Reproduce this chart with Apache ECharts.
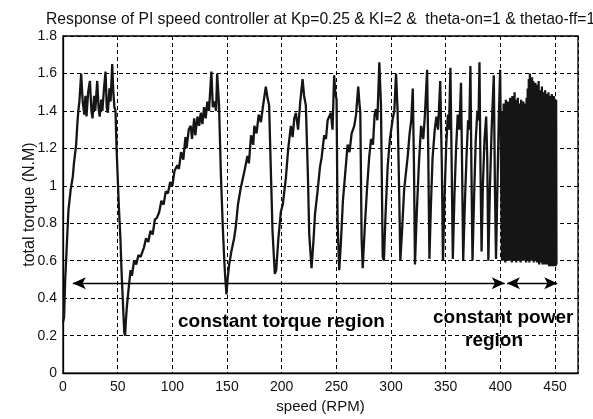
<!DOCTYPE html>
<html>
<head>
<meta charset="utf-8">
<script src="https://cdn.jsdelivr.net/npm/echarts@6/dist/echarts.min.js"></script>
<style>html,body{margin:0;padding:0;background:#fff;}#c{width:593px;height:419px;}</style>
</head>
<body>
<div id="c"></div>
<script>
// ---- data (speed RPM, total torque N.M) ----
const startUp = [[0,0.27],[1,0.3],[2,0.5],[3,0.62],[4,0.75],[5,0.87],[7,0.98],[9,1.05],[10,1.12],[12,1.22],[13,1.32],[14,1.40],[15,1.45],
  [16.6,1.60],[18,1.45],[19.5,1.38],[20.5,1.48],[21.5,1.37],[23,1.50],[24.6,1.56],[26,1.40],[27,1.36],[28.5,1.48],[29.5,1.40],
  [31.3,1.56],[32.5,1.42],[33.5,1.37],[35,1.46],[36,1.40],[37.5,1.52],[38.9,1.61],[40,1.42],[41,1.39],[42.5,1.52],[43.5,1.45],
  [45,1.65],[46,1.50],[47,1.42],[48,1.40],[49,1.2],[50,1.05],[51,0.9],[52.5,0.72],[53.5,0.55],[55,0.35],[56,0.22],[56.8,0.20]];
const ramp1 = [[57.5,0.28],[58.5,0.36],[60,0.45],[61.8,0.55],[63,0.52],[65,0.6],[67,0.58],[69,0.63],[71,0.62],[74,0.67],[76,0.72],
  [78,0.70],[80,0.76],[82,0.74],[84,0.82],[86,0.83],[88,0.86],[90,0.92],[92,0.90],[94,0.97],[96,0.96],[98,1.02],[100,1.0],
  [102,1.08],[104.6,1.11],[106,1.09],[108,1.18],[110,1.14],[112,1.26],[113,1.20],[115,1.30],[116.8,1.32],[118,1.25],[120,1.36],
  [121,1.27],[123,1.37],[124.5,1.32],[126,1.39],[127.5,1.33],[129,1.42],[130.5,1.36],[132,1.45],[133.5,1.40],[135.7,1.61],
  [137,1.42],[138.5,1.45],[140,1.40],[141,1.60],[142.7,1.43],[144.3,1.08],[146,0.80],[147.5,0.60],[148.5,0.50],[149.5,0.42]];
const ramp2 = [[150.5,0.50],[152,0.58],[154,0.65],[156.5,0.72],[158,0.78],[160,0.90],[162.6,0.99],[164,0.98],[166,1.08],[168.7,1.16],
  [170,1.12],[172,1.27],[174,1.22],[175,1.32],[177,1.28],[179,1.38],[181,1.34],[183,1.43],[185.5,1.53],[187,1.47],[188.5,1.43],
  [190,1.10],[191.6,0.76],[193.7,0.53]];
const ramp3 = [[195,0.55],[197,0.72],[199.2,0.86],[201,0.90],[203.8,1.04],[206,1.20],[208.4,1.32],[210,1.26],[211.5,1.36],[213,1.39],
  [215,1.30],[217,1.45],[219.1,1.57],[220.5,1.48],[222.1,1.43],[224,1.05],[225.2,0.74],[227.3,0.56],
  [229,0.70],[230.5,0.85],[232.8,0.97],[235,1.10],[236.5,1.15],[238.9,1.27],[240.5,1.25],[242,1.35],[245,1.39],[246.5,1.30],
  [248,1.59],[249,1.50],[250.2,1.46],[251.1,0.81],[252.6,0.55]];
const ramp4 = [[254,0.68],[256,0.92],[258,1.06],[260.3,1.22],[262,1.18],[264,1.28],[266.4,1.32],[268,1.38],[270,1.53],[271,1.45],
  [271.9,1.39],[273.1,0.72],[274.1,0.56],[276,0.78],[278,0.98],[280,1.15],[281.7,1.25],[283.5,1.22],[285,1.38],[286.3,1.41],
  [287.5,1.35],[289.3,1.66],[290.8,1.43],[292.4,0.62],[293.5,0.60],[295,0.85],[297,1.11],[299,1.25],[301.6,1.36],[303,1.40],
  [304.6,1.60],[306,1.40],[307.5,0.95],[308.5,0.60]];
const fastRamps = [[310,0.75],[312,0.98],[315.3,1.16],[317,1.28],[318.5,1.35],[319.9,1.52],[321,1.1],[321.9,0.58],[323.5,0.85],
  [325.5,1.12],[327.5,1.32],[329.5,1.25],[331,1.38],[333,1.62],[334,1.2],[335.1,0.61],[336.5,0.9],[338,1.15],[340,1.30],
  [341.5,1.37],[343,1.30],[345,1.56],[346.5,1.1],[347.5,0.60],[349,0.95],[350.5,1.22],[352,1.38],[353,1.30],[354.3,1.63],
  [355.5,1.1],[356.5,0.61],[358,0.95],[359.5,1.2],[361,1.38],[362.5,1.30],[364,1.55],[365,1.1],[366,0.6],[367.5,0.9],
  [369,1.15],[370.5,1.35],[371.5,1.30],[372.6,1.64],[373.5,1.1],[374.5,0.60],[376,0.95],[377.5,1.25],[379,1.40],[380,1.35],
  [380.9,1.66],[381.8,1.1],[382.8,0.65],[384,1.0],[385.5,1.25],[387,1.37],[388,1.15],[389,0.60],[390.5,1.0],[392,1.3],
  [393,1.45],[394,1.59],[395,1.0],[396,0.61],[397.5,1.05],[398.5,1.35],[399.8,1.62],[400.8,1.0],[401.5,0.60]];
const denseRegion = [[402,1.40],[402.5,0.60],[403,1.44],[403.5,0.62],[404,1.38],[404.5,0.59],[405,1.46],[405.5,0.61],[406,1.42],[406.5,0.60],
  [407,1.45],[407.5,0.63],[408,1.40],[408.5,0.60],[409,1.47],[409.5,0.61],[410,1.43],[410.5,0.59],[411,1.48],[411.5,0.62],
  [412,1.44],[412.5,0.60],[413,1.50],[413.5,0.61],[414,1.46],[414.5,0.59],[415,1.42],[415.5,0.62],[416,1.47],[416.5,0.60],
  [417,1.44],[417.5,0.61],[418,1.41],[418.5,0.59],[419,1.46],[419.5,0.60],[420,1.43],[420.5,0.62],[421,1.45],[421.5,0.60],
  [422,1.40],[422.5,0.61],[423,1.44],[423.5,0.59],[424,1.47],[424.5,0.60],[425,1.52],[425.5,0.61],[426,1.57],[426.5,0.59],
  [427,1.60],[427.5,0.60],[428,1.55],[428.5,0.62],[429,1.58],[429.5,0.60],[430,1.56],[430.5,0.59],[431,1.52],[431.5,0.61],
  [432,1.55],[432.5,0.60],[433,1.50],[433.5,0.59],[434,1.54],[434.5,0.60],[435,1.56],[435.5,0.58],[436,1.51],[436.5,0.60],
  [437,1.49],[437.5,0.59],[438,1.53],[438.5,0.58],[439,1.50],[439.5,0.60],[440,1.48],[440.5,0.58],[441,1.51],[441.5,0.59],
  [442,1.49],[442.5,0.58],[443,1.47],[443.5,0.59],[444,1.50],[444.5,0.57],[445,1.48],[445.5,0.58],[446,1.46],[446.5,0.57],
  [447,1.49],[447.5,0.58],[448,1.47],[448.5,0.57],[449,1.48],[449.5,0.58],[450,1.45],[450.5,0.57],[451,1.46],[451.3,0.58]];
const torqueRegionArrow = [[9,0.48],[404,0.48]];
const powerRegionArrow = [[406,0.48],[452,0.48]];
const xRange = [0, 471];
const yRange = [0, 1.8];
const xStep = 50;
const yStep = 0.2;
const titleText = 'Response of PI speed controller at Kp=0.25 & KI=2 &  theta-on=1 & thetao-ff=1';
const xName = 'speed (RPM)';
const yName = 'total torque (N.M)';

const curve = [].concat(startUp, ramp1, ramp2, ramp3, ramp4, fastRamps, denseRegion);

const FONT = '"Liberation Sans", Arial, Helvetica, sans-serif';
const chart = echarts.init(document.getElementById('c'), null, {renderer: 'canvas'});
const arrowLine = (pts) => [{coord: pts[0]}, {coord: pts[1]}];
chart.setOption({
  animation: false,
  backgroundColor: '#fff',
  title: {
    text: titleText, left: 41, top: 7,
    textStyle: {fontFamily: FONT, fontSize: 15.7, fontWeight: 'normal', color: '#111'}
  },
  grid: {left: 63, right: 15, top: 36, bottom: 42, show: true, borderColor: '#000', borderWidth: 1.3, backgroundColor: 'transparent'},
  xAxis: {
    type: 'value', min: xRange[0], max: xRange[1], interval: xStep,
    name: xName, nameLocation: 'middle', nameGap: 24,
    nameTextStyle: {fontFamily: FONT, fontSize: 15, color: '#111'},
    axisLine: {show: true, lineStyle: {color: '#000', width: 1.3}},
    axisTick: {show: false},
    axisLabel: {fontFamily: FONT, fontSize: 14, color: '#111', margin: 7, showMaxLabel: false},
    splitLine: {show: true, lineStyle: {color: '#000', type: [4, 3], width: 1}}
  },
  yAxis: {
    type: 'value', min: yRange[0], max: yRange[1], interval: yStep,
    name: yName, nameLocation: 'middle', nameGap: 25, nameMoveOverlap: false,
    nameTextStyle: {fontFamily: FONT, fontSize: 16, color: '#111'},
    axisLine: {show: true, lineStyle: {color: '#000', width: 1.3}},
    axisTick: {show: false},
    axisLabel: {fontFamily: FONT, fontSize: 14, color: '#111', margin: 6},
    splitLine: {show: true, lineStyle: {color: '#000', type: [4, 3], width: 1}}
  },
  series: [{
    type: 'line', data: curve, showSymbol: false, symbol: 'none',
    lineStyle: {color: '#151515', width: 2.3},
    markLine: {
      silent: true, symbol: ['arrow', 'arrow'], symbolSize: [9, 13],
      label: {show: false},
      lineStyle: {color: '#000', type: 'solid', width: 1.3},
      data: [arrowLine(torqueRegionArrow), arrowLine(powerRegionArrow)]
    }
  }],
  graphic: [
    {type: 'text', left: 178, top: 312, style: {text: 'constant torque region', font: 'bold 19px ' + FONT, fill: '#000'}},
    {type: 'text', left: 433, top: 308, style: {text: 'constant power', font: 'bold 19px ' + FONT, fill: '#000'}},
    {type: 'text', left: 465, top: 331, style: {text: 'region', font: 'bold 19px ' + FONT, fill: '#000'}}
  ]
});
</script>
</body>
</html>
